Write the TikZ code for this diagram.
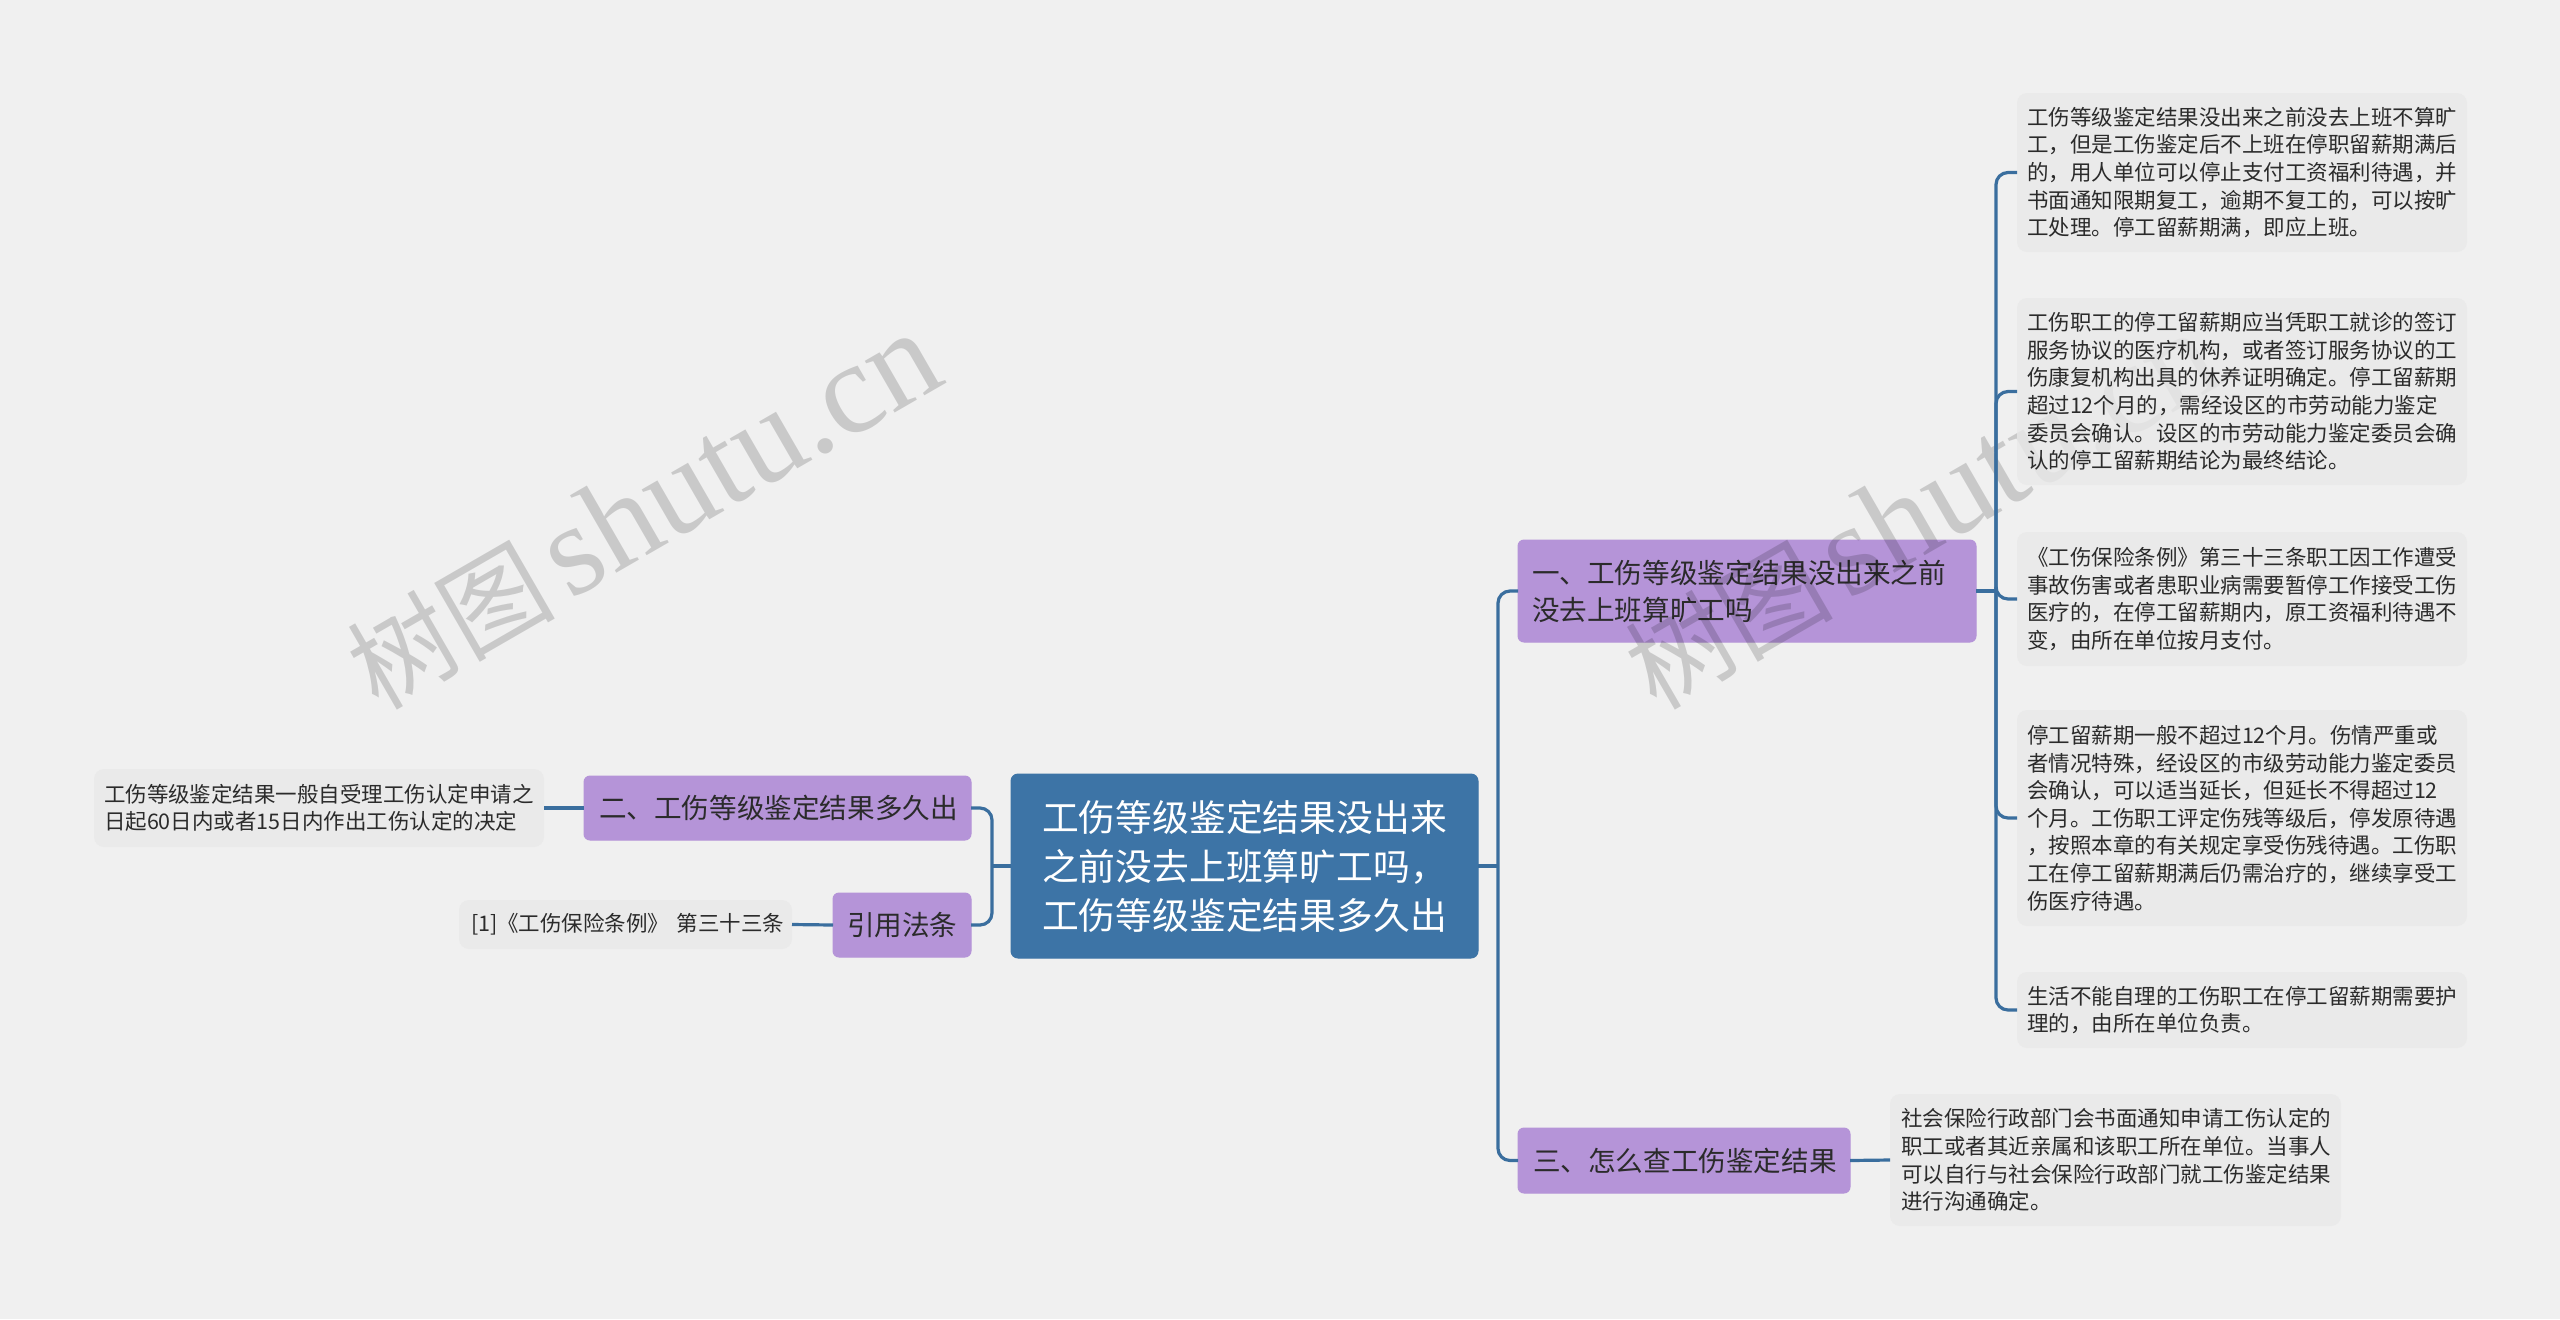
\documentclass[tikz,border=0pt]{standalone}
\usepackage{fontspec}
\setmainfont{Noto Sans CJK SC}
\newfontfamily\wmcjk{Noto Sans CJK SC}
\newfontfamily\wmlat{Liberation Serif}
\definecolor{bgc}{HTML}{F0F0F0}
\definecolor{blue}{HTML}{3D74A6}
\definecolor{linec}{HTML}{3A6E9E}
\definecolor{purple}{HTML}{B594D8}
\definecolor{leafc}{HTML}{E9E9E9}
\definecolor{ink}{HTML}{2B2B2B}
\tikzset{
  basebox/.style={rectangle,align=left,inner ysep=0pt,outer sep=0pt},
  rootbox/.style={basebox,fill=blue,draw=blue,line width=.5pt,rounded corners=3.5pt,text=white,
    font=\fontsize{18.4pt}{24.5pt}\selectfont},
  topicbox/.style={basebox,fill=purple,draw=purple,line width=.5pt,rounded corners=3pt,text=ink,
    font=\fontsize{13.8pt}{18.5pt}\selectfont},
  leafbox/.style={basebox,fill=leafc,fill opacity=.8,text opacity=1,rounded corners=5pt,text=ink,
    font=\fontsize{10.75pt}{13.8pt}\selectfont},
  conn/.style={draw=linec,line width=1.6pt,rounded corners=6pt},
  wmark/.style={text=black,text opacity=.16,rotate=30,inner sep=0pt}
}
% name, style, x1, y1, x2, y2, side padding, text
\newcommand{\placebox}[8]{%
  \pgfmathsetmacro{\tw}{(#5-#3-2*#7)*0.5}%
  \pgfmathsetmacro{\mh}{(#6-#4)*0.5}%
  \pgfmathsetmacro{\ix}{#7*0.5}%
  \pgfmathsetmacro{\cx}{(#3+#5)/2}%
  \pgfmathsetmacro{\cy}{(#4+#6)/2}%
  \node[#2,inner xsep=\ix pt,text width=\tw pt,minimum height=\mh pt] (#1) at (\cx,\cy) {#8};%
}
\newcommand{\wmtext}{{\wmcjk\fontsize{52pt}{60pt}\selectfont 树图}\hspace{7pt}{\wmlat\fontsize{65pt}{70pt}\selectfont shutu.cn}}
\begin{document}
\begin{tikzpicture}[x=0.5pt,y=-0.5pt]
\useasboundingbox (0,0) rectangle (2560,1319);
\fill[bgc] (0,0) rectangle (2560,1319);
\placebox{root}{rootbox}{1011}{774}{1478}{958}{31}{工伤等级鉴定结果没出来\\之前没去上班算旷工吗，\\工伤等级鉴定结果多久出}
\placebox{t1}{topicbox}{1518}{540}{1976}{642}{14}{一、工伤等级鉴定结果没出来之前\\没去上班算旷工吗}
\placebox{t3}{topicbox}{1518}{1128}{1850}{1193}{15}{三、怎么查工伤鉴定结果}
\placebox{t2}{topicbox}{584}{776}{971}{840}{15}{二、工伤等级鉴定结果多久出}
\placebox{t4}{topicbox}{833}{893}{971}{957}{14}{引用法条}
\node[wmark] (wm1) at (643,511) {\wmtext};
\node[wmark] (wm2) at (1921,511) {\wmtext};
\placebox{b1}{leafbox}{2017}{93}{2467}{252}{10}{工伤等级鉴定结果没出来之前没去上班不算旷\\工，但是工伤鉴定后不上班在停职留薪期满后\\的，用人单位可以停止支付工资福利待遇，并\\书面通知限期复工，逾期不复工的，可以按旷\\工处理。停工留薪期满，即应上班。}
\placebox{b2}{leafbox}{2017}{298}{2467}{485}{10}{工伤职工的停工留薪期应当凭职工就诊的签订\\服务协议的医疗机构，或者签订服务协议的工\\伤康复机构出具的休养证明确定。停工留薪期\\超过12个月的，需经设区的市劳动能力鉴定\\委员会确认。设区的市劳动能力鉴定委员会确\\认的停工留薪期结论为最终结论。}
\placebox{b3}{leafbox}{2017}{532}{2467}{666}{10}{《工伤保险条例》第三十三条职工因工作遭受\\事故伤害或者患职业病需要暂停工作接受工伤\\医疗的，在停工留薪期内，原工资福利待遇不\\变，由所在单位按月支付。}
\placebox{b4}{leafbox}{2017}{710}{2467}{926}{10}{停工留薪期一般不超过12个月。伤情严重或\\者情况特殊，经设区的市级劳动能力鉴定委员\\会确认，可以适当延长，但延长不得超过12\\个月。工伤职工评定伤残等级后，停发原待遇\\，按照本章的有关规定享受伤残待遇。工伤职\\工在停工留薪期满后仍需治疗的，继续享受工\\伤医疗待遇。}
\placebox{b5}{leafbox}{2017}{972}{2467}{1048}{10}{生活不能自理的工伤职工在停工留薪期需要护\\理的，由所在单位负责。}
\placebox{b6}{leafbox}{1890}{1094}{2341}{1226}{11}{社会保险行政部门会书面通知申请工伤认定的\\职工或者其近亲属和该职工所在单位。当事人\\可以自行与社会保险行政部门就工伤鉴定结果\\进行沟通确定。}
\placebox{l2}{leafbox}{94}{769}{544}{847}{10}{工伤等级鉴定结果一般自受理工伤认定申请之\\日起60日内或者15日内作出工伤认定的决定}
\placebox{l4}{leafbox}{459}{900}{792}{949}{12}{\mbox{[1]《工伤保险条例》 第三十三条}}
\coordinate (tr) at (1498,866);
\coordinate (tl) at (992,866);
\coordinate (tb) at (1996,591);
\draw[conn] (root.east) -- (tr);
\draw[conn] (t1.west) -| (tr) |- (t3.west);
\draw[conn] (root.west) -- (tl);
\draw[conn] (t2.east) -| (tl) |- (t4.east);
\draw[conn] (t2.west) -- (l2.east);
\draw[conn] (t4.west) -- (l4.east);
\draw[conn] (t3.east) -- (b6.west);
\draw[conn] (t1.east) -- (tb);
\draw[conn] (b1.west) -| (tb) |- (b5.west);
\draw[conn] (b2.west) -| (tb);
\draw[conn] (b3.west) -| (tb);
\draw[conn] (b4.west) -| (tb);
\end{tikzpicture}
\end{document}
